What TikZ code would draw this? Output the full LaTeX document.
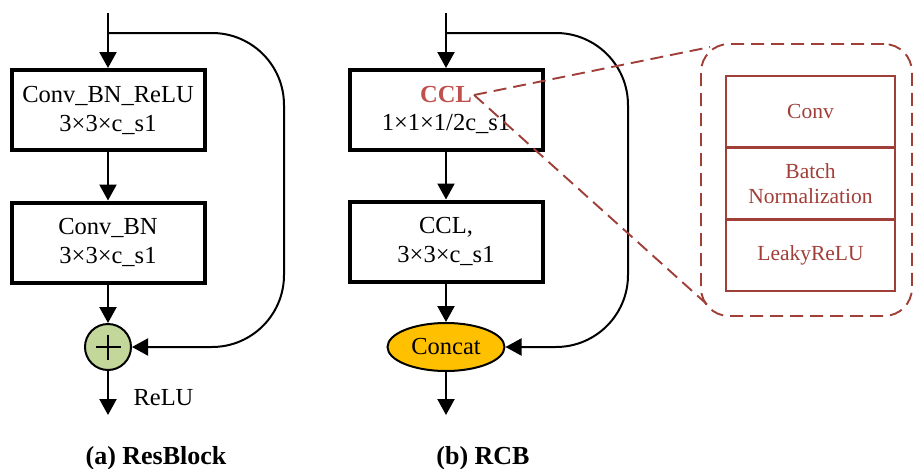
\documentclass[tikz,border=0pt]{standalone}
\usepackage{fontspec}
\setmainfont{Liberation Serif}
\usetikzlibrary{arrows.meta,shapes.geometric,calc}
\definecolor{cclred}{RGB}{192,80,77}
\definecolor{zoomred}{RGB}{160,62,56}
\definecolor{addgreen}{RGB}{196,215,155}
\definecolor{catorange}{RGB}{255,192,0}
\begin{document}
\begin{tikzpicture}[x=1pt,y=-1pt,
  tip/.tip={Triangle[length=16pt 0,width=17pt 0]},
  flow/.style={line width=2.2pt,-tip},
  skip/.style={line width=2pt,rounded corners=72pt,-tip},
  mainfont/.style={font=\fontsize{24.5}{29}\selectfont},
  blockbox/.style={draw,line width=4pt,minimum width=193pt,minimum height=80pt,
    align=center,inner sep=0pt,mainfont},
  stackcell/.style={draw=zoomred,line width=1.6pt,minimum width=169pt,
    text=zoomred,align=center,inner sep=0pt,font=\fontsize{21.5}{25}\selectfont},
  zoomline/.style={draw=zoomred,line width=1.9pt,dash pattern=on 13pt off 7pt},
  caption/.style={font=\fontsize{26}{30}\selectfont\bfseries}]
\useasboundingbox (0,0) rectangle (914,469);

% (a) residual block
\coordinate (inA) at (108,13);
\coordinate (splitA) at (108,33);
\node[blockbox] (a1) at (108,110) {Conv\_BN\_ReLU\\3×3×c\_s1};
\node[blockbox] (a2) at (108,242.5) {Conv\_BN\\3×3×c\_s1};
\node[circle,draw,line width=2pt,fill=addgreen,minimum size=46pt,inner sep=0pt] (add) at (108,347) {};
\draw[line width=2pt] ($(add.center)+(-12.5,0)$) -- ($(add.center)+(12.5,0)$)
  ($(add.center)+(0,-12.5)$) -- ($(add.center)+(0,12.5)$);
\coordinate (outA) at (108,415);
\draw[flow] (inA) -- (a1.north);
\draw[flow] (a1.south) -- (a2.north);
\draw[flow] (a2.south) -- (add.north);
\draw[flow] (add.south) -- (outA);
\draw[skip] (splitA) -- (284,33) -- (284,347) -- (add.east);
\node[mainfont,anchor=west] (relu) at (130,398) {ReLU};
\node[caption] (capA) at (156,458) {(a) ResBlock};

% (b) RCB
\coordinate (inB) at (446,13);
\coordinate (splitB) at (446,33);
\node[blockbox] (b1) at (446,110) {};
\node[font=\fontsize{24.5}{29}\selectfont\bfseries,text=cclred,inner sep=2pt] (ccltxt) at (446,95) {CCL};
\node[mainfont,inner sep=0pt] (b1sub) at (446,124) {1×1×1/2c\_s1};
\node[blockbox] (b2) at (446,241.5) {CCL,\\3×3×c\_s1};
\node[ellipse,draw,line width=2pt,fill=catorange,minimum width=117pt,minimum height=48pt,inner sep=0pt,mainfont] (cat) at (446,347) {Concat};
\coordinate (outB) at (446,415);
\draw[flow] (inB) -- (b1.north);
\draw[flow] (b1.south) -- (b2.north);
\draw[flow] (b2.south) -- (cat.north);
\draw[flow] (cat.south) -- (outB);
\draw[skip] (splitB) -- (628,33) -- (628,347) -- (cat.east);
\node[caption] (capB) at (483,458) {(b) RCB};

% expanded view of CCL
\node[zoomline,rounded corners=28pt,minimum width=211pt,minimum height=272pt] (zoomframe) at (806.5,180) {};
\node[stackcell,minimum height=71pt] (sconv) at (810.5,111.5) {Conv};
\node[stackcell,minimum height=70pt,anchor=north] (sbn) at (sconv.south) {Batch\\Normalization};
\node[stackcell,minimum height=71pt,anchor=north] (sact) at (sbn.south) {LeakyReLU};
\draw[zoomline] (ccltxt.east) -- ($(zoomframe.north west)+(10,4)$);
\draw[zoomline] (ccltxt.east) -- ($(zoomframe.south west)+(11,-9)$);
\end{tikzpicture}
\end{document}
